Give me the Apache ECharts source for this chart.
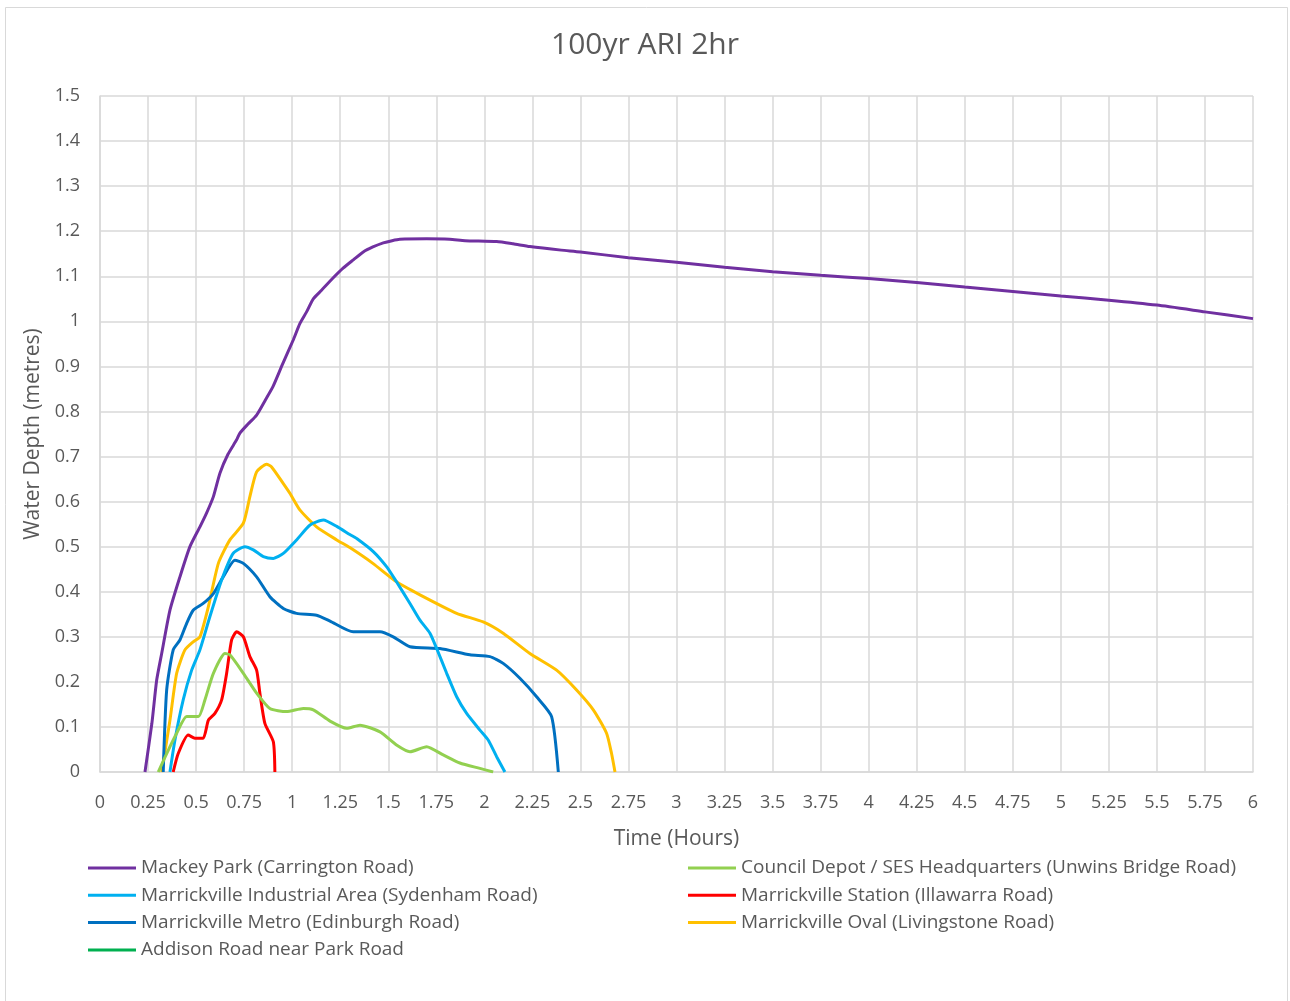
<!DOCTYPE html>
<html>
<head>
<meta charset="utf-8">
<title>100yr ARI 2hr</title>
<script src="https://cdn.jsdelivr.net/npm/echarts@6/dist/echarts.min.js"></script>
<style>
  html, body { margin: 0; padding: 0; background: #ffffff; }
  #chart { width: 1290px; height: 1001px; }
</style>
</head>
<body>
<div id="chart"></div>
<script>
// Water depth (metres) against time (hours), as [time, depth] pairs
const mackeyPark = [
  [0.234,0],[0.27,0.108],[0.295,0.204],[0.321,0.263],[0.364,0.359],[0.416,0.433],
  [0.468,0.5],[0.52,0.544],[0.555,0.575],[0.59,0.611],[0.624,0.663],[0.666,0.705],
  [0.711,0.737],[0.728,0.752],[0.77,0.772],[0.815,0.792],[0.86,0.825],[0.90,0.855],
  [0.95,0.905],[1.005,0.958],[1.04,0.995],[1.075,1.021],[1.11,1.05],[1.153,1.069],
  [1.21,1.095],[1.265,1.118],[1.32,1.137],[1.37,1.154],[1.42,1.165],[1.474,1.174],
  [1.52,1.179],[1.56,1.182],[1.7,1.183],[1.82,1.182],[1.9,1.179],[2.064,1.177],
  [2.15,1.172],[2.237,1.166],[2.4,1.158],[2.5,1.154],[2.75,1.141],[3,1.131],
  [3.25,1.12],[3.5,1.11],[3.75,1.102],[4,1.095],[4.25,1.086],[4.5,1.076],
  [4.75,1.066],[5,1.056],[5.25,1.047],[5.5,1.036],[5.75,1.021],[6,1.006]
];
const councilDepot = [
  [0.303,0],[0.347,0.041],[0.399,0.086],[0.451,0.123],[0.512,0.123],[0.546,0.16],
  [0.59,0.219],[0.65,0.263],[0.676,0.26],[0.746,0.219],[0.815,0.175],[0.884,0.141],
  [0.971,0.134],[1.058,0.141],[1.11,0.138],[1.197,0.113],[1.284,0.097],[1.353,0.104],
  [1.457,0.089],[1.543,0.06],[1.613,0.045],[1.70,0.056],[1.786,0.038],[1.873,0.02],
  [1.977,0.008],[2.046,0]
];
const industrialArea = [
  [0.364,0],[0.39,0.071],[0.433,0.16],[0.477,0.226],[0.52,0.271],[0.572,0.345],
  [0.633,0.426],[0.693,0.485],[0.754,0.5],[0.798,0.493],[0.85,0.478],[0.902,0.474],
  [0.954,0.485],[1.023,0.515],[1.093,0.548],[1.162,0.559],[1.232,0.545],[1.30,0.527],
  [1.336,0.518],[1.422,0.489],[1.492,0.455],[1.543,0.422],[1.613,0.374],[1.665,0.337],
  [1.717,0.308],[1.752,0.274],[1.804,0.219],[1.856,0.167],[1.908,0.13],[1.977,0.093],
  [2.02,0.071],[2.064,0.034],[2.107,0]
];
const stationRoad = [
  [0.381,0],[0.407,0.041],[0.459,0.082],[0.494,0.075],[0.537,0.075],[0.564,0.115],
  [0.598,0.13],[0.633,0.16],[0.659,0.219],[0.685,0.293],[0.711,0.311],[0.746,0.30],
  [0.78,0.256],[0.815,0.226],[0.832,0.175],[0.858,0.108],[0.902,0.067],[0.91,0]
];
const metroRoad = [
  [0.329,0],[0.347,0.182],[0.381,0.271],[0.416,0.293],[0.451,0.33],[0.485,0.359],
  [0.537,0.374],[0.59,0.396],[0.641,0.433],[0.702,0.47],[0.746,0.463],[0.815,0.433],
  [0.884,0.389],[0.954,0.363],[1.023,0.352],[1.127,0.348],[1.197,0.335],[1.318,0.311],
  [1.457,0.311],[1.526,0.30],[1.613,0.278],[1.769,0.274],[1.925,0.26],[2.029,0.256],
  [2.098,0.241],[2.185,0.208],[2.272,0.167],[2.35,0.123],[2.385,0]
];
const ovalRoad = [
  [0.321,0],[0.364,0.115],[0.399,0.219],[0.442,0.271],[0.485,0.289],[0.52,0.3],
  [0.564,0.367],[0.616,0.463],[0.676,0.515],[0.746,0.552],[0.78,0.611],[0.815,0.666],
  [0.867,0.683],[0.893,0.677],[0.954,0.64],[0.989,0.618],[1.041,0.581],[1.127,0.544],
  [1.232,0.515],[1.30,0.498],[1.42,0.463],[1.543,0.422],[1.665,0.393],[1.856,0.352],
  [1.994,0.333],[2.098,0.308],[2.237,0.263],[2.376,0.226],[2.48,0.182],[2.567,0.138],
  [2.636,0.086],[2.662,0.041],[2.68,0]
];
const addisonRoad = [];

const seriesNames = [
  'Mackey Park (Carrington Road)',
  'Council Depot / SES Headquarters (Unwins Bridge Road)',
  'Marrickville Industrial Area (Sydenham Road)',
  'Marrickville Station (Illawarra Road)',
  'Marrickville Metro (Edinburgh Road)',
  'Marrickville Oval (Livingstone Road)',
  'Addison Road near Park Road'
];
const seriesData = [mackeyPark, councilDepot, industrialArea, stationRoad, metroRoad, ovalRoad, addisonRoad];
const seriesColors = ['#7030A0', '#92D050', '#00B0F0', '#FF0000', '#0070C0', '#FFC000', '#00B050'];

const FONT = '"Open Sans", Lato, sans-serif';
const TEXT = '#595959';
const GRID = '#d9d9d9';

const chart = echarts.init(document.getElementById('chart'), null, { renderer: 'canvas' });

const legendBase = {
  orient: 'vertical',
  top: 852,
  icon: 'rect',
  itemWidth: 48,
  itemHeight: 3,
  itemGap: 5.3,
  textStyle: { fontFamily: FONT, fontSize: 19, color: TEXT, lineHeight: 22 }
};

chart.setOption({
  backgroundColor: '#ffffff',
  animation: false,
  title: {
    text: '100yr ARI 2hr',
    left: 'center',
    top: 25,
    textStyle: { fontFamily: FONT, fontSize: 30, fontWeight: 'normal', color: TEXT }
  },
  graphic: [{
    type: 'rect',
    shape: { x: 5.5, y: 7.5, width: 1282, height: 1000 },
    style: { fill: 'none', stroke: GRID, lineWidth: 1 },
    silent: true,
    z: -1
  }],
  legend: [
    Object.assign({}, legendBase, { left: 83, data: [seriesNames[0], seriesNames[2], seriesNames[4], seriesNames[6]] }),
    Object.assign({}, legendBase, { left: 683, data: [seriesNames[1], seriesNames[3], seriesNames[5]] })
  ],
  grid: { left: 100, right: 37, top: 96, bottom: 229, containLabel: false },
  xAxis: {
    type: 'value',
    min: 0, max: 6, interval: 0.25,
    name: 'Time (Hours)',
    nameLocation: 'middle',
    nameGap: 57,
    nameTextStyle: { fontFamily: FONT, fontSize: 21, color: TEXT },
    axisLine: { show: true, lineStyle: { color: GRID, width: 1.5 } },
    axisTick: { show: false },
    axisLabel: { fontFamily: FONT, fontSize: 18, color: TEXT, margin: 22 },
    splitLine: { show: true, lineStyle: { color: GRID, width: 1.5 } }
  },
  yAxis: {
    type: 'value',
    min: 0, max: 1.5, interval: 0.1,
    name: 'Water Depth (metres)',
    nameLocation: 'middle',
    nameGap: 55,
    nameTextStyle: { fontFamily: FONT, fontSize: 21, color: TEXT },
    axisLine: { show: true, lineStyle: { color: GRID, width: 1.5 } },
    axisTick: { show: false },
    axisLabel: { fontFamily: FONT, fontSize: 18, color: TEXT, margin: 20 },
    splitLine: { show: true, lineStyle: { color: GRID, width: 1.5 } }
  },
  series: seriesNames.map((name, i) => ({
    name: name,
    type: 'line',
    data: seriesData[i],
    color: seriesColors[i],
    symbol: 'none',
    smooth: 0.2,
    lineStyle: { width: 3, color: seriesColors[i] },
    z: 10 - i
  }))
});
</script>
</body>
</html>
